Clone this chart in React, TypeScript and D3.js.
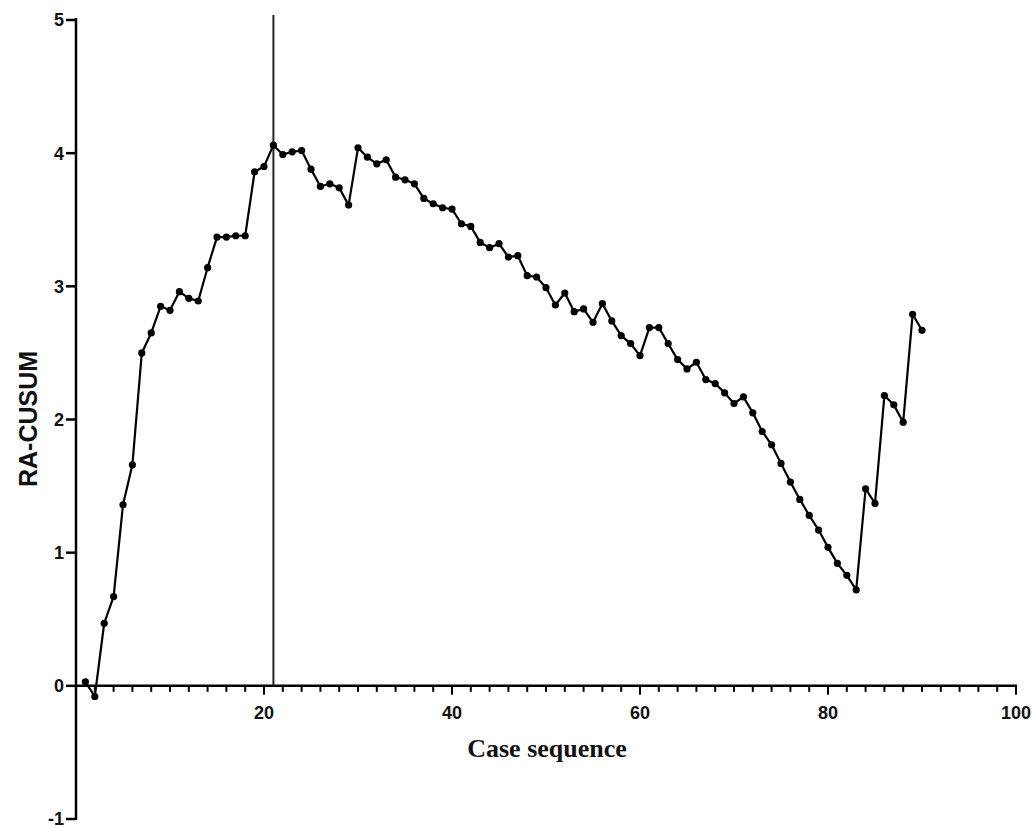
import { useEffect, useRef } from 'react';
import * as d3 from 'd3';

// RA-CUSUM value per case, cases 1..90
const cusum = [
  0.03, -0.08, 0.47, 0.67, 1.36, 1.66, 2.5, 2.65, 2.85, 2.82,
  2.96, 2.91, 2.89, 3.14, 3.37, 3.37, 3.38, 3.38, 3.86, 3.9,
  4.06, 3.99, 4.01, 4.02, 3.88, 3.75, 3.77, 3.74, 3.61, 4.04,
  3.97, 3.92, 3.95, 3.82, 3.8, 3.77, 3.66, 3.62, 3.59, 3.58,
  3.47, 3.45, 3.33, 3.29, 3.32, 3.22, 3.23, 3.08, 3.07, 2.99,
  2.86, 2.95, 2.81, 2.83, 2.73, 2.87, 2.74, 2.63, 2.57, 2.48,
  2.69, 2.69, 2.57, 2.45, 2.38, 2.43, 2.3, 2.27, 2.2, 2.12,
  2.17, 2.05, 1.91, 1.81, 1.67, 1.53, 1.4, 1.28, 1.17, 1.04,
  0.92, 0.83, 0.72, 1.48, 1.37, 2.18, 2.11, 1.98, 2.79, 2.67,
];
const changePoint = 21;
const xTicks = [0, 20, 40, 60, 80, 100];
const yTicks = [-1, 0, 1, 2, 3, 4, 5];

function CusumChart() {
  const svgRef = useRef<SVGSVGElement>(null);

  useEffect(() => {
    const width = 1032;
    const height = 828;
    const left = 76;
    const right = 1016;
    const top = 20;
    const bottom = 819;

    const svg = d3.select(svgRef.current);
    svg.selectAll('*').remove();
    svg.attr('width', width).attr('height', height).attr('viewBox', `0 0 ${width} ${height}`);

    const x = d3.scaleLinear().domain([0, 100]).range([left, right]);
    const y = d3.scaleLinear().domain([-1, 5]).range([bottom, top]);
    const tickFont = '"Liberation Sans Narrow", "Liberation Sans", Arial, sans-serif';

    // y axis
    svg.append('line')
      .attr('x1', left).attr('x2', left)
      .attr('y1', y(5) - 2).attr('y2', y(-1) + 1)
      .attr('stroke', '#000').attr('stroke-width', 2.5);

    svg.selectAll('.ytick')
      .data(yTicks)
      .enter()
      .append('line')
      .attr('x1', left - 10).attr('x2', left)
      .attr('y1', (d) => y(d)).attr('y2', (d) => y(d))
      .attr('stroke', '#000').attr('stroke-width', 2.5);

    svg.selectAll('.ylabel')
      .data(yTicks)
      .enter()
      .append('text')
      .attr('x', left - 12)
      .attr('y', (d) => y(d))
      .attr('dy', '.36em')
      .attr('text-anchor', 'end')
      .attr('font-family', tickFont)
      .attr('font-weight', 'bold')
      .attr('font-size', '18px')
      .attr('fill', '#111')
      .text((d) => (d < 0 ? `-${Math.abs(d)}` : d));

    // x axis
    svg.append('line')
      .attr('x1', left).attr('x2', right + 1)
      .attr('y1', y(0)).attr('y2', y(0))
      .attr('stroke', '#000').attr('stroke-width', 2.5);

    svg.selectAll('.xminor')
      .data(d3.range(2, 101, 2))
      .enter()
      .append('line')
      .attr('x1', (d) => x(d)).attr('x2', (d) => x(d))
      .attr('y1', y(0)).attr('y2', (d) => y(0) + (d % 20 === 0 ? 9 : 6))
      .attr('stroke', '#000').attr('stroke-width', 2);

    svg.selectAll('.xlabel')
      .data(xTicks.slice(1))
      .enter()
      .append('text')
      .attr('x', (d) => x(d))
      .attr('y', y(0) + 33)
      .attr('text-anchor', 'middle')
      .attr('font-family', tickFont)
      .attr('font-weight', 'bold')
      .attr('font-size', '18px')
      .attr('fill', '#111')
      .text((d) => d);

    // change point marker
    svg.append('line')
      .attr('x1', x(changePoint)).attr('x2', x(changePoint))
      .attr('y1', y(5) - 5).attr('y2', y(0))
      .attr('stroke', '#222').attr('stroke-width', 2);

    const pts = cusum.map((v, i) => [i + 1, v] as [number, number]);

    const line = d3.line<[number, number]>()
      .x((d) => x(d[0]))
      .y((d) => y(d[1]));

    svg.append('path')
      .datum(pts)
      .attr('d', line)
      .attr('fill', 'none')
      .attr('stroke', '#000')
      .attr('stroke-width', 2.2)
      .attr('stroke-linejoin', 'round');

    svg.selectAll('.pt')
      .data(pts)
      .enter()
      .append('circle')
      .attr('cx', (d) => x(d[0]))
      .attr('cy', (d) => y(d[1]))
      .attr('r', 3.6)
      .attr('fill', '#000');

    // axis titles
    svg.append('text')
      .attr('x', 547)
      .attr('y', 757)
      .attr('text-anchor', 'middle')
      .attr('font-family', '"Liberation Serif", "Times New Roman", serif')
      .attr('font-weight', 'bold')
      .attr('font-size', '26px')
      .attr('fill', '#111')
      .text('Case sequence');

    svg.append('text')
      .attr('transform', `translate(37, 419) rotate(-90)`)
      .attr('text-anchor', 'middle')
      .attr('font-family', '"Liberation Sans", Arial, sans-serif')
      .attr('font-weight', 'bold')
      .attr('font-size', '25px')
      .attr('fill', '#111')
      .text('RA-CUSUM');
  }, []);

  return <svg ref={svgRef}></svg>;
}

export default function App() {
  return (
    <div style={{ position: 'absolute', left: 0, top: 0 }}>
      <CusumChart />
    </div>
  );
}
